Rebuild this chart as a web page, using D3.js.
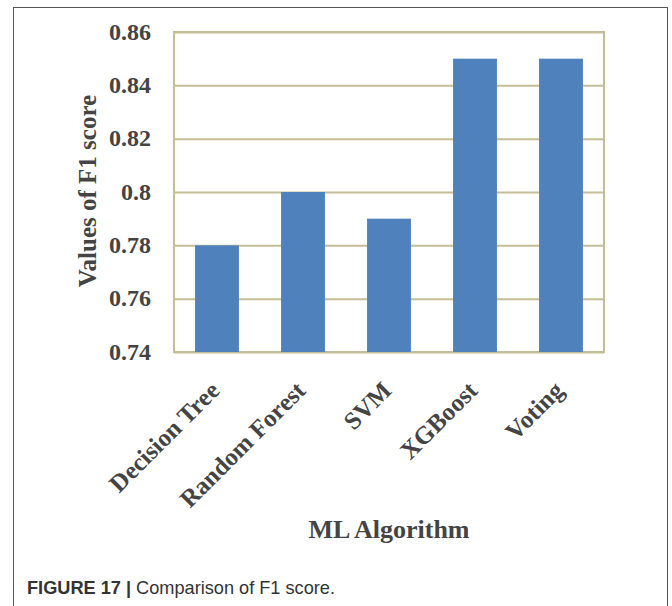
<!DOCTYPE html>
<html><head><meta charset="utf-8">
<script src="https://cdn.jsdelivr.net/npm/d3@7"></script>
<style>body{margin:0;background:#fff}</style>
</head><body>
<svg id="c" width="672" height="606"></svg>
<script>
const categories = ["Decision Tree","Random Forest","SVM","XGBoost","Voting"];
const f1Values = [0.78, 0.80, 0.79, 0.85, 0.85];
const yTicks = [0.74, 0.76, 0.78, 0.80, 0.82, 0.84, 0.86];
const yTickLabels = ["0.74","0.76","0.78","0.8","0.82","0.84","0.86"];

(function(){
const svg = d3.select("#c");
const pL = 174, pR = 604, pT = 32, pB = 352;
const textCol = "#444", gridCol = "#C4BD97";
const serif = "'Liberation Serif','Times New Roman',serif";

// outer frame
svg.append("rect").attr("x",13.5).attr("y",7.5).attr("width",654).attr("height",620)
  .attr("fill","none").attr("stroke","#555").attr("stroke-width",1);

const x = d3.scaleBand().domain(categories).range([pL,pR]).paddingInner(0.49).paddingOuter(0.245);
const y = d3.scaleLinear().domain([0.74,0.86]).range([pB,pT]);

// grid
const yAxis = d3.axisLeft(y).tickValues(yTicks).tickSize(-(pR-pL)).tickFormat((d,i)=>yTickLabels[i]);
const gy = svg.append("g").attr("transform",`translate(${pL},0)`).call(yAxis);
gy.select(".domain").remove();
gy.selectAll(".tick line").attr("stroke",gridCol).attr("stroke-width",2);
gy.selectAll(".tick text").attr("x",-23).attr("fill",textCol)
  .style("font-family",serif).style("font-size","24px").style("font-weight","bold").attr("dy","0.3em");

// plot border
svg.append("rect").attr("x",pL).attr("y",pT).attr("width",pR-pL).attr("height",pB-pT)
  .attr("fill","none").attr("stroke",gridCol).attr("stroke-width",2);

// bars
svg.selectAll(".bar").data(categories).enter().append("rect")
  .attr("x",d=>x(d)).attr("width",x.bandwidth())
  .attr("y",(d,i)=>y(f1Values[i])).attr("height",(d,i)=>y(0.74)-y(f1Values[i]))
  .attr("fill","#4F81BD");

// x labels
svg.selectAll(".xl").data(categories).enter().append("text")
  .attr("transform",d=>`translate(${x(d)+x.bandwidth()/2+4},392) rotate(-45)`)
  .attr("text-anchor","end").attr("fill",textCol)
  .style("font-family",serif).style("font-size","25px").style("font-weight","bold")
  .text(d=>d);

// axis titles
svg.append("text").attr("x",(pL+pR)/2).attr("y",538).attr("text-anchor","middle")
  .attr("fill",textCol).style("font-family",serif).style("font-size","26px").style("font-weight","bold")
  .text("ML Algorithm");
svg.append("text").attr("transform",`translate(96,${(pT+pB)/2-1}) rotate(-90)`).attr("text-anchor","middle")
  .attr("fill",textCol).style("font-family",serif).style("font-size","25px").style("font-weight","bold")
  .text("Values of F1 score");

// caption
const cap = svg.append("text").attr("x",27).attr("y",594).attr("fill","#333")
  .style("font-family","'Liberation Sans',Arial,sans-serif").style("font-size","19px")
  .attr("textLength",308).attr("lengthAdjust","spacingAndGlyphs");
cap.append("tspan").style("font-weight","bold").text("FIGURE 17 | ");
cap.append("tspan").text("Comparison of F1 score.");
})();
</script>
</body></html>
